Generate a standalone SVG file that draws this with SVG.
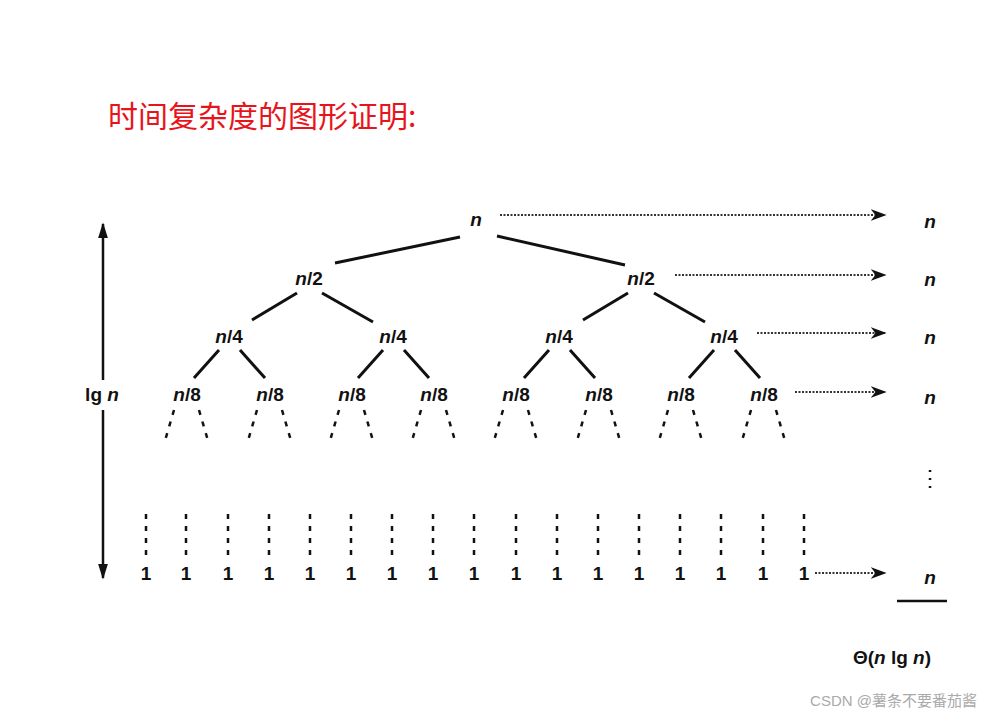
<svg xmlns="http://www.w3.org/2000/svg" width="982" height="718" viewBox="0 0 982 718">
<style>
.t{font-family:"Liberation Sans",Arial,sans-serif;font-weight:bold;font-size:19px;fill:#111;text-anchor:middle}
.i{font-style:italic}
.e{stroke:#111;stroke-width:3;fill:none}
.d{stroke:#111;stroke-width:2.5;stroke-dasharray:5 7;fill:none}
.a{stroke:#333;stroke-width:2;stroke-dasharray:2 1.5;fill:none;marker-end:url(#ah)}
</style>
<defs>
<marker id="ah" viewBox="0 0 10 10" refX="9" refY="5" markerWidth="16" markerHeight="12" markerUnits="userSpaceOnUse" orient="auto" preserveAspectRatio="none"><path d="M0,0L10,5L0,10L3,5z" fill="#111"/></marker>
<marker id="va" viewBox="0 0 10 10" refX="9" refY="5" markerWidth="16" markerHeight="10" markerUnits="userSpaceOnUse" orient="auto" preserveAspectRatio="none"><path d="M0,0L10,5L0,10z" fill="#111"/></marker>
</defs>
<rect width="982" height="718" fill="#fff"/>
<text x="108" y="127" font-family="'Noto Sans CJK SC',sans-serif" font-size="30" fill="#e8141b">时间复杂度的图形证明:</text>
<g id="connectors">
<path class="e" d="M460,237L335,263M497,236L625,265M297,293L252,320M322,293L373,322M628,293L583,320M654,293L705,322M219,350L194,378M240,350L265,378M383,350L358,378M404,350L429,378M549,350L524,378M570,350L595,378M714,350L689,378M735,350L760,378"/>
<path class="d" d="M174,410L164,444M199,410L209,444M257,410L247,444M282,410L292,444M339,410L329,444M364,410L374,444M421,410L411,444M446,410L456,444M503,410L493,444M528,410L538,444M586,410L576,444M611,410L621,444M668,410L658,444M693,410L703,444M751,410L741,444M776,410L786,444"/>
<path class="d" d="M146,514V556M186,514V556M228,514V556M269,514V556M310,514V556M351,514V556M392,514V556M433,514V556M474,514V556M516,514V556M557,514V556M598,514V556M639,514V556M680,514V556M721,514V556M763,514V556M804,514V556"/>
<path class="a" d="M500,215H885"/>
<path class="a" d="M675,275H885"/>
<path class="a" d="M757,333H885"/>
<path class="a" d="M795,392H885"/>
<path class="a" d="M815,573H885"/>
<path d="M103,380V224" stroke="#111" stroke-width="2.5" marker-end="url(#va)"/>
<path d="M103,410V578" stroke="#111" stroke-width="2.5" marker-end="url(#va)"/>
<path d="M930,470V490" stroke="#111" stroke-width="2.5" stroke-dasharray="2 6"/>
<path d="M897,601H947" stroke="#111" stroke-width="2.5"/>
</g>
<g id="n0"><text class="t i" x="476" y="226">n</text></g>
<g id="n1"><text class="t" x="309" y="285"><tspan class="i">n</tspan>/2</text></g>
<g id="n2"><text class="t" x="641" y="285"><tspan class="i">n</tspan>/2</text></g>
<g id="n3"><text class="t" x="229" y="343"><tspan class="i">n</tspan>/4</text></g>
<g id="n4"><text class="t" x="393" y="343"><tspan class="i">n</tspan>/4</text></g>
<g id="n5"><text class="t" x="559" y="343"><tspan class="i">n</tspan>/4</text></g>
<g id="n6"><text class="t" x="724" y="343"><tspan class="i">n</tspan>/4</text></g>
<g id="n8">
<text class="t" x="187" y="401"><tspan class="i">n</tspan>/8</text>
<text class="t" x="270" y="401"><tspan class="i">n</tspan>/8</text>
<text class="t" x="352" y="401"><tspan class="i">n</tspan>/8</text>
<text class="t" x="434" y="401"><tspan class="i">n</tspan>/8</text>
<text class="t" x="516" y="401"><tspan class="i">n</tspan>/8</text>
<text class="t" x="599" y="401"><tspan class="i">n</tspan>/8</text>
<text class="t" x="681" y="401"><tspan class="i">n</tspan>/8</text>
<text class="t" x="764" y="401"><tspan class="i">n</tspan>/8</text>
</g>
<g id="leaves">
<text class="t" x="146" y="580">1</text><text class="t" x="186" y="580">1</text><text class="t" x="228" y="580">1</text><text class="t" x="269" y="580">1</text><text class="t" x="310" y="580">1</text><text class="t" x="351" y="580">1</text><text class="t" x="392" y="580">1</text><text class="t" x="433" y="580">1</text><text class="t" x="474" y="580">1</text><text class="t" x="516" y="580">1</text><text class="t" x="557" y="580">1</text><text class="t" x="598" y="580">1</text><text class="t" x="639" y="580">1</text><text class="t" x="680" y="580">1</text><text class="t" x="721" y="580">1</text><text class="t" x="763" y="580">1</text><text class="t" x="804" y="580">1</text>
</g>
<g id="sums">
<text class="t i" x="930" y="228">n</text>
<text class="t i" x="930" y="286">n</text>
<text class="t i" x="930" y="344">n</text>
<text class="t i" x="930" y="404">n</text>
<text class="t i" x="930" y="584">n</text>
<text class="t" x="892" y="664">Θ(<tspan class="i">n</tspan> lg <tspan class="i">n</tspan>)</text>
</g>
<g id="lgn"><text class="t" x="102" y="401">lg <tspan class="i">n</tspan></text></g>
<text x="977" y="706" text-anchor="end" font-family="'Liberation Sans','Noto Sans CJK SC',sans-serif" font-size="15" fill="#aaa">CSDN @薯条不要番茄酱</text>
</svg>
